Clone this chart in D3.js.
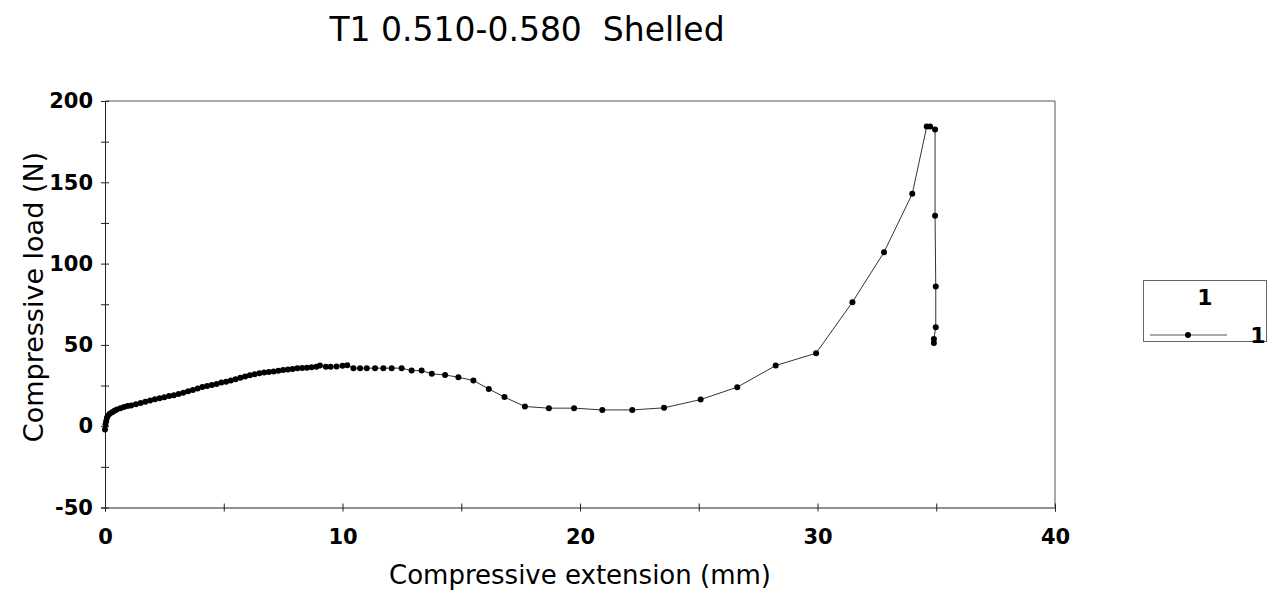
<!DOCTYPE html>
<html>
<head>
<meta charset="utf-8">
<script src="https://cdn.jsdelivr.net/npm/d3@7"></script>
<style>
  body { margin: 0; background: #fff; }
  svg { display: block; }
</style>
</head>
<body>
<svg id="chart" width="1274" height="595"></svg>
<script>
const chartTitle = 'T1 0.510-0.580  Shelled';
const xTitle = 'Compressive extension (mm)';
const yTitle = 'Compressive load (N)';
const seriesName = '1';

const xTicks = [0, 5, 10, 15, 20, 25, 30, 35, 40];
const yTicks = [-50, -25, 0, 25, 50, 75, 100, 125, 150, 175, 200];

// extension (mm) and load (N)
const extension = [
  0, 0.02, 0.05, 0.08, 0.12, 0.2, 0.3, 0.4, 0.5, 0.65, 0.8, 0.95, 1.1, 1.3, 1.5, 1.7, 1.9,
  2.1, 2.3, 2.5, 2.7, 2.9, 3.1, 3.3, 3.5, 3.7, 3.9, 4.1, 4.3, 4.5, 4.7, 4.9, 5.1, 5.3, 5.5,
  5.7, 5.9, 6.1, 6.3, 6.5, 6.7, 6.9, 7.1, 7.3, 7.5, 7.7, 7.9, 8.1, 8.3, 8.5, 8.7, 8.9, 9.05,
  9.3, 9.5, 9.75, 10.0, 10.2, 10.46, 10.74, 11.02, 11.37, 11.72, 12.07, 12.49, 12.91, 13.33,
  13.76, 14.32, 14.88, 15.51, 16.16, 16.82, 17.68, 18.69, 19.75, 20.94, 22.2, 23.54, 25.08,
  26.62, 28.24, 29.94, 31.47, 32.8, 33.99, 34.6, 34.74, 34.95, 34.95, 34.98, 34.98, 34.9, 34.9
];
const load = [
  -2, 1, 3, 5, 6.5, 7.6, 8.6, 9.5, 10.2, 11, 11.8, 12.4, 12.8, 13.5, 14.2, 15.0, 15.8,
  16.5, 17.2, 17.8, 18.5, 19.1, 19.8, 20.6, 21.5, 22.3, 23.2, 24.1, 24.7, 25.3, 26.0, 26.8, 27.4, 28.1, 28.9,
  29.8, 30.6, 31.4, 32.0, 32.6, 33.0, 33.3, 33.7, 34.1, 34.5, 34.8, 35.2, 35.6, 35.8, 36.0, 36.3, 36.6, 37.3,
  36.5, 36.6, 36.7, 37.2, 37.5, 35.7, 35.7, 35.7, 35.7, 35.7, 35.7, 35.7, 34.2, 34.2,
  32.2, 31.5, 30.1, 28.1, 22.9, 17.9, 12.1, 11.1, 11.1, 10.0, 10.0, 11.3, 16.4,
  24.0, 37.3, 44.9, 76.3, 107.0, 142.9, 184.3, 184.3, 182.4, 129.5, 85.9, 60.9, 53.7, 51.2
];

const data = extension.map((x, i) => ({ x, y: load[i] }));

const svg = d3.select('#chart');
const font = 'DejaVu Sans, Verdana, sans-serif';

const margin = { top: 101, right: 219, bottom: 87.5, left: 105 };
const width = 1274, height = 595;

const x = d3.scaleLinear().domain([0, 40]).range([margin.left, width - margin.right]);
const y = d3.scaleLinear().domain([-50, 200]).range([height - margin.bottom, margin.top]);

// frame: top and right edges
svg.append('path')
  .attr('d', `M${x(0)},${y(200)}H${x(40)}V${y(-50)}`)
  .attr('fill', 'none')
  .attr('stroke', '#555')
  .attr('stroke-width', 1);

// x axis
const gx = svg.append('g')
  .attr('transform', `translate(0,${y(-50)})`)
  .call(d3.axisBottom(x).tickValues(xTicks).tickSize(4).tickPadding(18)
    .tickFormat((d) => (d % 10 === 0 ? d : '')));
gx.select('.domain').attr('stroke', '#222');
gx.selectAll('.tick line').attr('y1', -4).attr('y2', 4).attr('stroke', '#222');
gx.selectAll('.tick text')
  .attr('font-family', font).attr('font-size', 21).attr('font-weight', 'bold').attr('fill', '#000');

// y axis
const gy = svg.append('g')
  .attr('transform', `translate(${x(0)},0)`)
  .call(d3.axisLeft(y).tickValues(yTicks).tickSize(4).tickPadding(8)
    .tickFormat((d) => (d % 50 === 0 ? d : '')));
gy.select('.domain').attr('stroke', '#222');
gy.selectAll('.tick line').attr('x1', -4).attr('x2', 4).attr('stroke', '#222');
gy.selectAll('.tick text')
  .attr('font-family', font).attr('font-size', 21).attr('font-weight', 'bold').attr('fill', '#000');

// series line
const line = d3.line().x((d) => x(d.x)).y((d) => y(d.y));
svg.append('path')
  .datum(data)
  .attr('d', line)
  .attr('fill', 'none')
  .attr('stroke', '#333')
  .attr('stroke-width', 1);

svg.append('g')
  .selectAll('circle')
  .data(data)
  .enter()
  .append('circle')
  .attr('cx', (d) => x(d.x))
  .attr('cy', (d) => y(d.y))
  .attr('r', 3)
  .attr('fill', '#000');

// titles
svg.append('text')
  .attr('x', 527).attr('y', 41)
  .attr('text-anchor', 'middle')
  .attr('font-family', font).attr('font-size', 33)
  .style('white-space', 'pre')
  .text(chartTitle);

svg.append('text')
  .attr('x', 580).attr('y', 584)
  .attr('text-anchor', 'middle')
  .attr('font-family', font).attr('font-size', 26)
  .text(xTitle);

svg.append('text')
  .attr('transform', 'translate(43,297) rotate(-90)')
  .attr('text-anchor', 'middle')
  .attr('font-family', font).attr('font-size', 27)
  .text(yTitle);

// legend
const lg = svg.append('g');
lg.append('rect')
  .attr('x', 1143.5).attr('y', 280.5).attr('width', 123).attr('height', 61)
  .attr('fill', '#fff').attr('stroke', '#666').attr('stroke-width', 1);
lg.append('text')
  .attr('x', 1205).attr('y', 305)
  .attr('text-anchor', 'middle')
  .attr('font-family', font).attr('font-size', 22).attr('font-weight', 'bold')
  .text(seriesName);
lg.append('line')
  .attr('x1', 1150).attr('x2', 1227).attr('y1', 335).attr('y2', 335)
  .attr('stroke', '#555').attr('stroke-width', 1);
lg.append('circle')
  .attr('cx', 1188).attr('cy', 335).attr('r', 3).attr('fill', '#000');
lg.append('text')
  .attr('x', 1258).attr('y', 343)
  .attr('text-anchor', 'middle')
  .attr('font-family', font).attr('font-size', 22).attr('font-weight', 'bold')
  .text(seriesName);
</script>
</body>
</html>
